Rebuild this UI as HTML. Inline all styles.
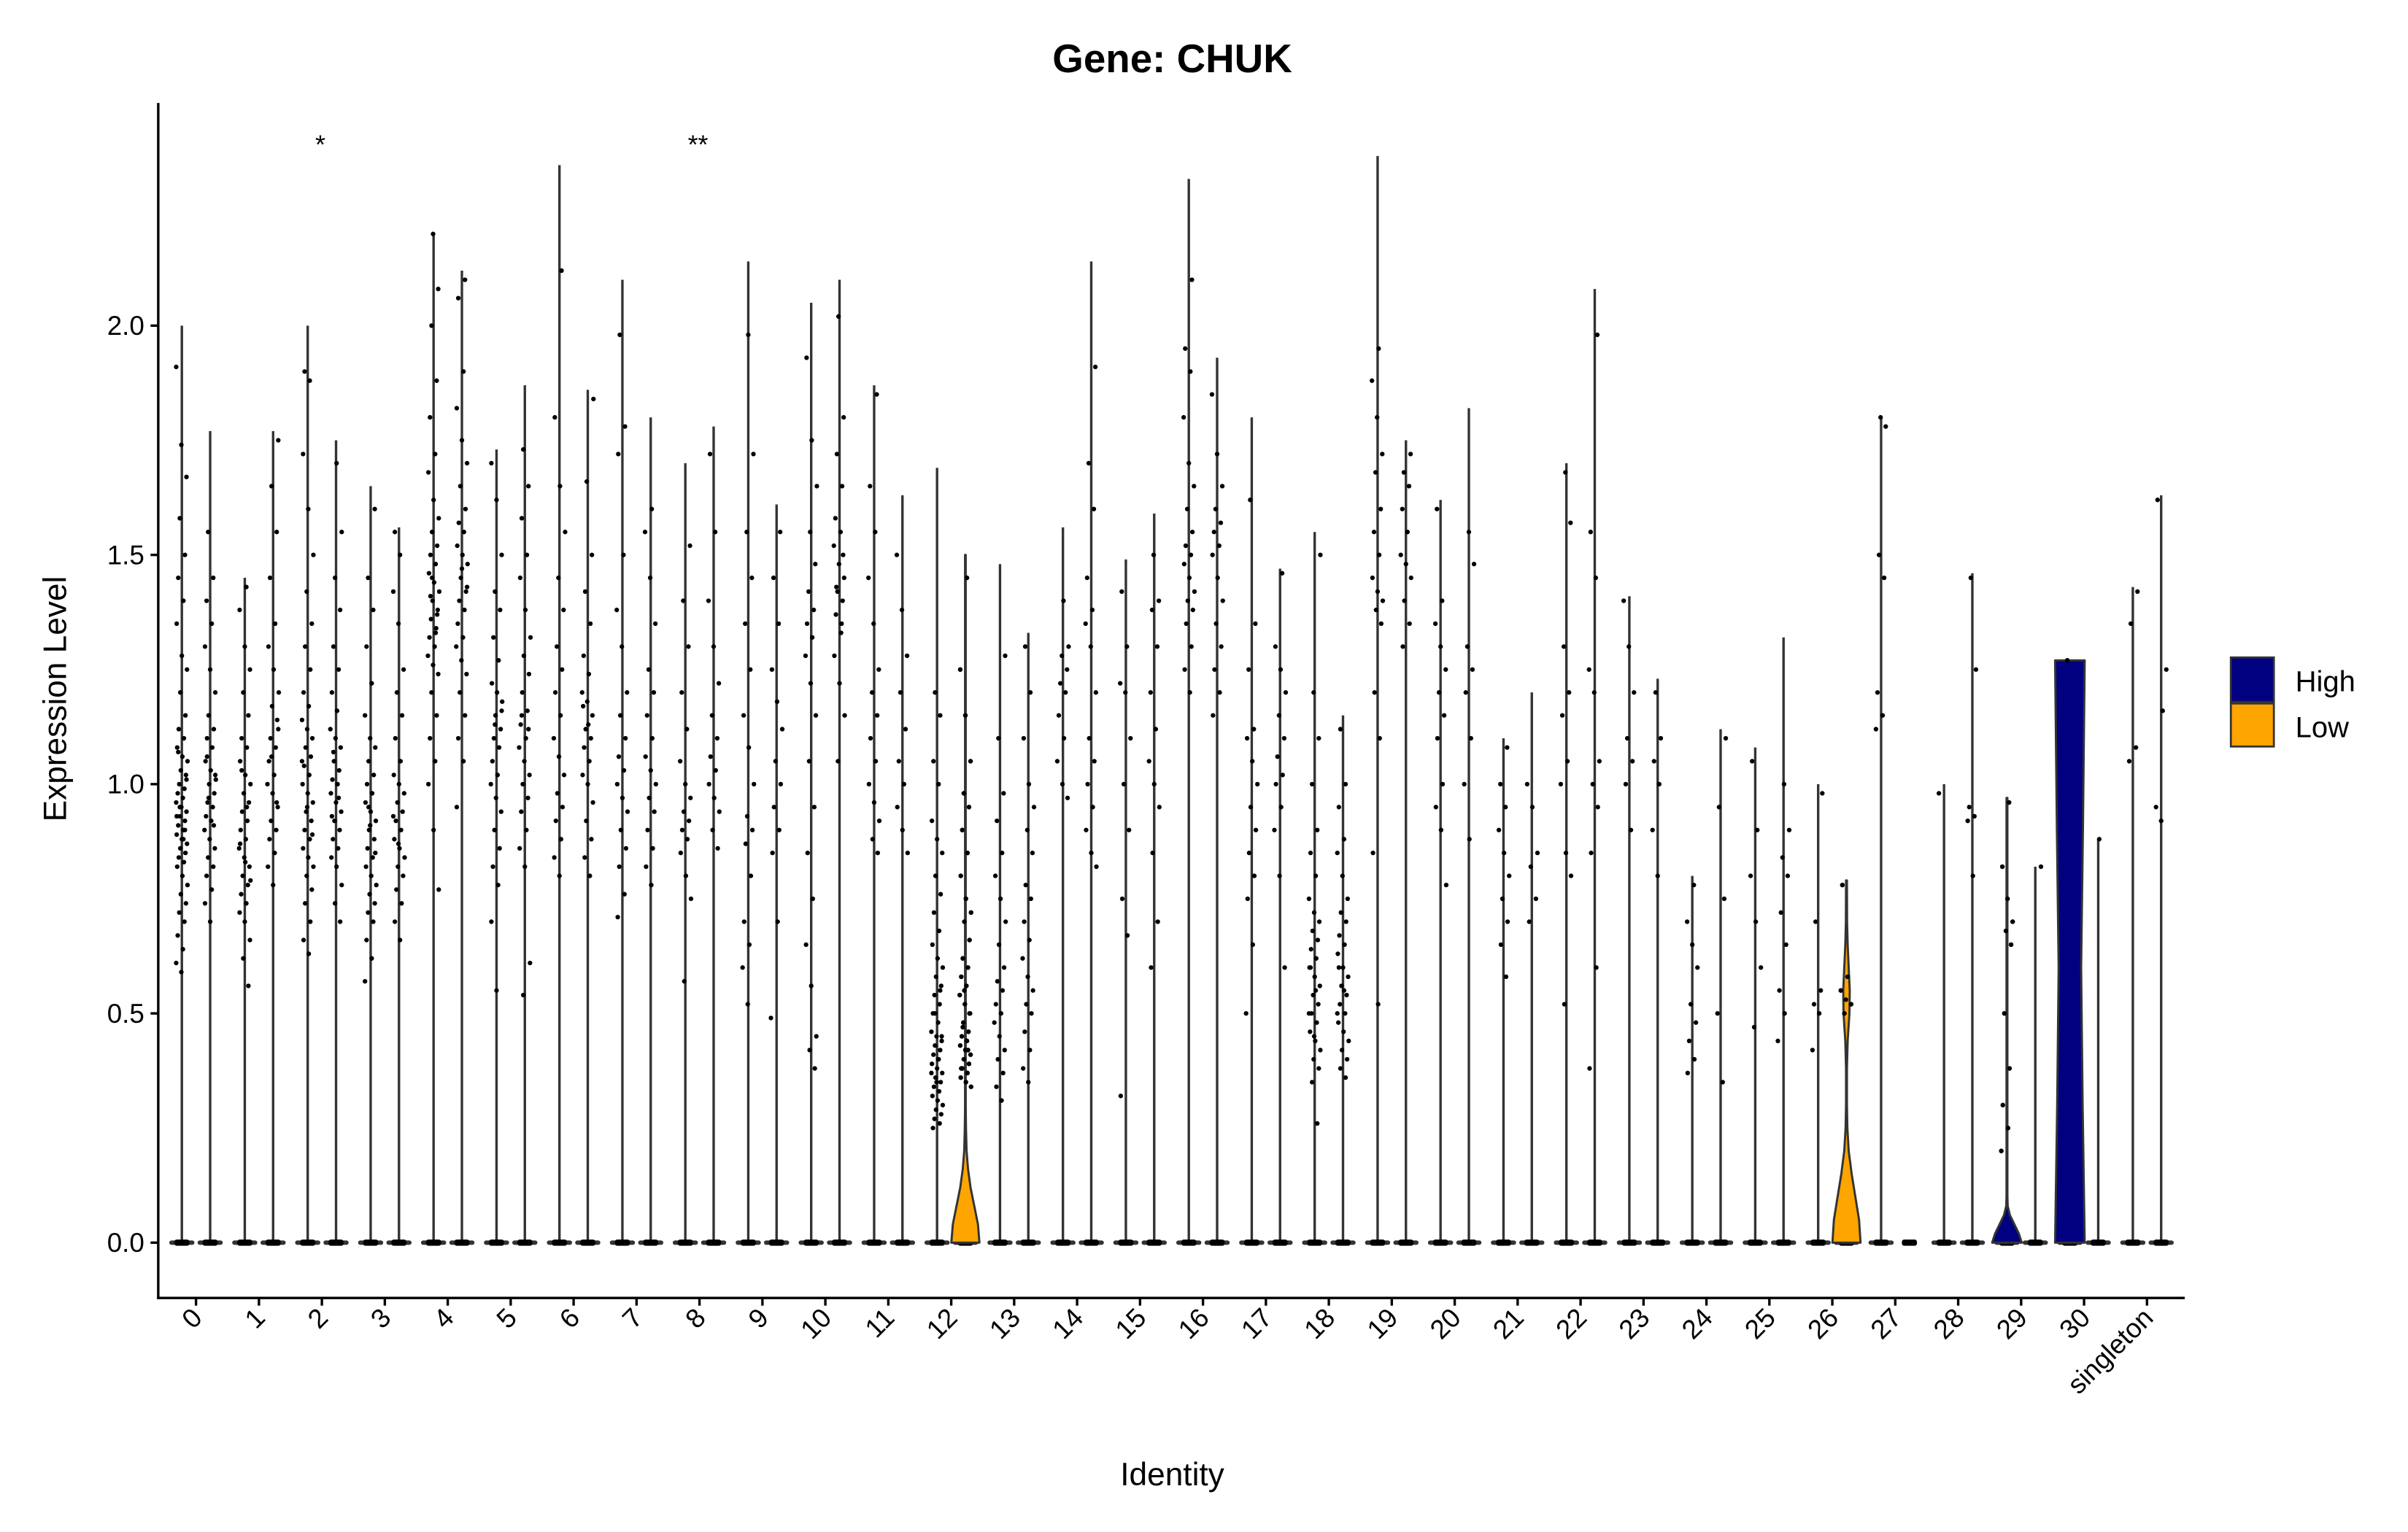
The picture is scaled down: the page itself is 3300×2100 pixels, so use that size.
<!DOCTYPE html>
<html><head><meta charset="utf-8"><style>
html,body{margin:0;padding:0;background:#fff;}
svg{display:block;font-family:"Liberation Sans",Arial,sans-serif;}
</style></head><body>
<svg id="chart" xmlns="http://www.w3.org/2000/svg" width="3300" height="2100" viewBox="0 0 1567.3 997.37">
<rect x="0" y="0" width="1600" height="1000" fill="#fff"/>
<text x="763" y="47" text-anchor="middle" font-size="26" font-weight="bold">Gene: CHUK</text>
<text transform="translate(43,455) rotate(-90)" text-anchor="middle" font-size="21">Expression Level</text>
<text x="763" y="967" text-anchor="middle" font-size="21">Identity</text>
<g id="plot"></g>
<g>
<rect x="1452" y="428" width="28" height="29" fill="#000080" stroke="#333" stroke-width="1.3"/>
<rect x="1452" y="458" width="28" height="28" fill="#FFA500" stroke="#333" stroke-width="1.3"/>
<text x="1494" y="450" font-size="19">High</text>
<text x="1494" y="480" font-size="19">Low</text>
</g>
</svg>
<script>
const categories = ["0","1","2","3","4","5","6","7","8","9","10","11","12","13","14","15","16","17","18","19","20","21","22","23","24","25","26","27","28","29","30","singleton"];
const yTicks = [0, 0.5, 1.0, 1.5, 2.0];
const yTickLabels = ["0.0","0.5","1.0","1.5","2.0"];
const maxLeft = [2.0,1.45,2.0,1.65,2.2,1.73,2.35,2.1,1.7,2.14,2.05,1.87,1.69,1.48,1.56,1.49,2.32,1.8,1.55,2.37,1.62,1.1,1.7,1.41,0.8,1.08,1.0,1.8,1.0,0.97,1.27,1.43];
const maxRight = [1.77,1.77,1.75,1.56,2.12,1.87,1.86,1.8,1.78,1.61,2.1,1.63,1.5,1.33,2.14,1.59,1.93,1.47,1.15,1.75,1.82,1.2,2.08,1.23,1.12,1.32,0.79,0,1.46,0.82,0.88,1.63];
const pointsLeft = [
[1.91,1.74,1.67,1.58,1.5,1.45,1.4,1.35,1.28,1.25,1.2,1.15,1.12,1.1,1.08,1.06,1.05,1.03,1.02,1.0,0.99,0.98,0.97,0.96,0.95,0.94,0.93,0.92,0.91,0.9,0.89,0.88,0.87,0.86,0.85,0.84,0.83,0.82,0.8,0.78,0.76,0.74,0.72,0.7,0.67,0.64,0.61,0.59,1.01,0.95,0.9,1.07,0.88,0.93],
[1.43,1.38,1.3,1.25,1.2,1.15,1.1,1.08,1.05,1.02,1.0,0.98,0.96,0.94,0.92,0.9,0.88,0.86,0.84,0.82,0.8,0.78,0.76,0.74,0.72,0.7,0.66,0.62,0.56,1.03,0.95,0.87,0.83,0.79],
[1.9,1.88,1.72,1.6,1.5,1.42,1.35,1.3,1.25,1.2,1.17,1.14,1.12,1.1,1.08,1.06,1.04,1.02,1.0,0.98,0.96,0.94,0.92,0.9,0.88,0.86,0.84,0.82,0.8,0.77,0.74,0.7,0.66,0.63,1.05,0.95,0.89],
[1.6,1.45,1.38,1.3,1.22,1.15,1.1,1.08,1.05,1.02,1.0,0.98,0.96,0.94,0.92,0.9,0.88,0.86,0.84,0.82,0.8,0.78,0.76,0.74,0.72,0.7,0.66,0.62,0.57,0.91,0.85,0.95],
[2.2,2.08,2.0,1.88,1.8,1.72,1.68,1.62,1.58,1.55,1.52,1.5,1.48,1.46,1.44,1.42,1.4,1.38,1.36,1.34,1.32,1.3,1.28,1.26,1.24,1.2,1.15,1.1,1.05,1.0,0.9,0.77,1.45,1.37,1.41,1.33],
[1.7,1.62,1.5,1.42,1.38,1.32,1.27,1.22,1.2,1.18,1.15,1.12,1.1,1.08,1.05,1.02,1.0,0.97,0.94,0.9,0.86,0.82,0.78,0.7,0.55,1.16,1.13],
[2.12,1.8,1.65,1.55,1.45,1.38,1.3,1.25,1.2,1.15,1.1,1.06,1.02,0.98,0.95,0.92,0.88,0.84,0.8],
[1.98,1.78,1.72,1.5,1.38,1.3,1.2,1.15,1.1,1.06,1.03,1.0,0.97,0.94,0.9,0.86,0.82,0.76,0.71],
[1.52,1.4,1.3,1.2,1.12,1.05,1.0,0.97,0.94,0.92,0.9,0.88,0.85,0.8,0.75,0.57],
[1.98,1.72,1.55,1.45,1.35,1.25,1.15,1.08,1.0,0.93,0.9,0.87,0.8,0.7,0.65,0.6,0.52],
[1.93,1.75,1.65,1.55,1.48,1.42,1.38,1.35,1.32,1.28,1.22,1.15,1.05,0.95,0.85,0.75,0.65,0.56,0.45,0.42,0.38],
[1.85,1.65,1.55,1.45,1.35,1.25,1.2,1.15,1.1,1.05,1.0,0.96,0.92,0.88,0.85],
[1.2,1.15,1.05,1.0,0.92,0.88,0.85,0.8,0.76,0.72,0.68,0.65,0.62,0.6,0.58,0.56,0.54,0.52,0.5,0.48,0.46,0.45,0.44,0.43,0.42,0.41,0.4,0.39,0.38,0.37,0.36,0.35,0.34,0.33,0.32,0.31,0.3,0.29,0.28,0.27,0.26,0.25,0.4,0.37,0.35,0.45,0.5,0.55],
[1.28,1.1,0.98,0.92,0.85,0.8,0.75,0.7,0.65,0.6,0.57,0.55,0.52,0.5,0.48,0.45,0.42,0.4,0.37,0.34,0.31],
[1.4,1.3,1.28,1.25,1.22,1.2,1.15,1.1,1.05,1.0,0.97],
[1.42,1.3,1.22,1.2,1.1,1.0,0.9,0.75,0.67,0.32],
[2.1,1.95,1.9,1.8,1.7,1.65,1.6,1.55,1.52,1.5,1.48,1.45,1.42,1.4,1.38,1.35,1.3,1.25,1.2],
[1.62,1.35,1.25,1.12,1.1,1.05,1.0,0.95,0.9,0.85,0.8,0.75,0.65,0.5],
[1.5,1.2,1.1,1.0,0.9,0.85,0.8,0.75,0.72,0.7,0.68,0.66,0.64,0.62,0.6,0.58,0.56,0.54,0.52,0.5,0.48,0.46,0.44,0.42,0.4,0.38,0.35,0.26,0.6,0.55,0.5,0.45],
[1.95,1.88,1.8,1.72,1.68,1.6,1.55,1.5,1.45,1.42,1.4,1.38,1.35,1.2,1.1,0.85,0.52],
[1.6,1.4,1.35,1.3,1.25,1.2,1.15,1.1,1.0,0.95,0.9,0.78],
[1.08,1.0,0.95,0.9,0.85,0.8,0.75,0.7,0.65,0.58],
[1.68,1.57,1.3,1.2,1.15,1.05,1.0,0.85,0.8,0.52],
[1.4,1.3,1.2,1.1,1.05,1.0,0.9],
[0.78,0.7,0.65,0.6,0.52,0.48,0.44,0.4,0.37],
[1.05,0.9,0.8,0.7,0.6,0.47],
[0.98,0.7,0.55,0.52,0.5,0.42],
[1.8,1.78,1.5,1.45,1.2,1.15,1.12],
[0.98],
[0.96,0.82,0.75,0.7,0.68,0.65,0.5,0.38,0.3,0.25,0.2],
[1.27],
[1.42,1.35,1.08,1.05]
];
const pointsRight = [
[1.55,1.45,1.4,1.35,1.3,1.25,1.2,1.15,1.12,1.1,1.08,1.05,1.03,1.01,1.0,0.98,0.96,0.95,0.93,0.92,0.9,0.88,0.86,0.84,0.82,0.8,0.77,0.74,0.7,1.02,0.97,0.91,1.06],
[1.75,1.65,1.55,1.45,1.35,1.3,1.25,1.2,1.17,1.14,1.1,1.08,1.05,1.02,1.0,0.98,0.95,0.92,0.9,0.88,0.85,0.82,0.78,1.12,1.06,0.96],
[1.7,1.55,1.45,1.38,1.3,1.25,1.2,1.16,1.12,1.1,1.08,1.05,1.03,1.01,1.0,0.98,0.96,0.94,0.92,0.9,0.88,0.86,0.84,0.82,0.78,0.74,0.7,1.07,0.97,0.93],
[1.55,1.5,1.42,1.35,1.25,1.2,1.15,1.1,1.05,1.02,1.0,0.98,0.96,0.94,0.92,0.9,0.88,0.86,0.84,0.82,0.8,0.77,0.74,0.7,0.66,0.93,0.87],
[2.1,2.06,1.9,1.82,1.75,1.7,1.65,1.6,1.57,1.55,1.52,1.5,1.48,1.45,1.42,1.4,1.38,1.35,1.32,1.3,1.27,1.24,1.2,1.15,1.1,1.05,0.95,1.47,1.43],
[1.73,1.65,1.58,1.5,1.45,1.38,1.32,1.28,1.24,1.2,1.16,1.13,1.1,1.08,1.05,1.02,1.0,0.97,0.94,0.9,0.86,0.82,0.61,0.54,1.12,1.15],
[1.84,1.66,1.5,1.42,1.35,1.28,1.24,1.2,1.18,1.15,1.12,1.1,1.08,1.05,1.02,1.0,0.96,0.92,0.88,0.84,0.8,1.17,1.13],
[1.6,1.55,1.45,1.35,1.25,1.2,1.15,1.1,1.06,1.03,1.0,0.97,0.94,0.9,0.86,0.82,0.78],
[1.72,1.55,1.4,1.3,1.22,1.15,1.1,1.06,1.03,1.0,0.97,0.94,0.9,0.86],
[1.55,1.45,1.35,1.25,1.18,1.12,1.05,1.0,0.95,0.9,0.85,0.7,0.49],
[2.02,1.8,1.72,1.65,1.58,1.55,1.52,1.48,1.45,1.42,1.4,1.37,1.33,1.28,1.22,1.15,1.05,1.5,1.43,1.35],
[1.5,1.38,1.28,1.2,1.12,1.05,1.0,0.95,0.9,0.85],
[1.45,1.25,1.15,1.05,0.98,0.95,0.9,0.85,0.8,0.75,0.72,0.7,0.66,0.62,0.6,0.58,0.56,0.54,0.52,0.5,0.48,0.46,0.45,0.44,0.43,0.42,0.41,0.4,0.39,0.38,0.37,0.36,0.35,0.34,0.55,0.5,0.47,0.42,0.38],
[1.3,1.2,1.1,1.0,0.95,0.9,0.85,0.78,0.75,0.7,0.66,0.62,0.58,0.55,0.52,0.5,0.46,0.42,0.38,0.35],
[1.91,1.7,1.6,1.45,1.38,1.35,1.3,1.2,1.1,1.05,1.0,0.95,0.9,0.85,0.82],
[1.5,1.4,1.38,1.3,1.2,1.12,1.05,1.0,0.95,0.85,0.7,0.6],
[1.85,1.72,1.65,1.6,1.57,1.55,1.52,1.5,1.45,1.4,1.35,1.3,1.25,1.2,1.15],
[1.46,1.3,1.25,1.2,1.15,1.1,1.06,1.02,1.0,0.95,0.9,0.8,0.6],
[1.12,1.0,0.95,0.88,0.85,0.8,0.75,0.72,0.7,0.67,0.65,0.63,0.6,0.58,0.56,0.54,0.52,0.5,0.48,0.46,0.44,0.42,0.4,0.38,0.36,0.6,0.55,0.5],
[1.72,1.68,1.65,1.6,1.55,1.5,1.48,1.45,1.4,1.35,1.3],
[1.55,1.48,1.3,1.25,1.2,1.1,1.0,0.88],
[1.0,0.95,0.85,0.82,0.75,0.7],
[1.98,1.55,1.45,1.25,1.2,1.05,1.0,0.95,0.85,0.6,0.38],
[1.2,1.1,1.05,1.0,0.9,0.8],
[1.1,0.95,0.75,0.5,0.35],
[1.0,0.9,0.84,0.8,0.72,0.65,0.55,0.5,0.44],
[0.78,0.58,0.55,0.53,0.52,0.5],
[],
[1.45,1.25,0.95,0.93,0.92,0.8],
[0.82],
[0.88],
[1.62,1.16,0.95,0.92,1.25]
];
const profile12Low = [[0,0.95],[0.04,0.85],[0.08,0.6],[0.12,0.35],[0.16,0.18],[0.2,0.08],[0.25,0.04],[0.3,0.02],[1.5,0.02]];
const profile26Low = [[0,0.95],[0.05,0.85],[0.1,0.6],[0.15,0.35],[0.2,0.15],[0.25,0.06],[0.3,0.03],[0.38,0.03],[0.44,0.08],[0.5,0.2],[0.55,0.22],[0.6,0.15],[0.65,0.08],[0.7,0.04],[0.79,0.03]];
const profile29High = [[0,1.0],[0.02,0.8],[0.04,0.5],[0.06,0.2],[0.08,0.05],[0.1,0.03],[0.97,0.03]];
const profile30High = [[0,1.0],[0.3,0.86],[0.6,0.76],[0.9,0.88],[1.27,1.0]];
const filledViolins = [
  {cat:12, side:1, color:"#FFA500", prof:profile12Low},
  {cat:26, side:1, color:"#FFA500", prof:profile26Low},
  {cat:29, side:-1, color:"#000080", prof:profile29High},
  {cat:30, side:-1, color:"#000080", prof:profile30High}
];

const NS = "http://www.w3.org/2000/svg";
const plot = document.getElementById('plot');
const X0 = 103, X1 = 1422, YB = 845, YT = 67;
const S = (X1 - X0) / 32.2;
function xCat(i){ return X0 + (0.6 + i) * S; }
function yVal(v){ return 809 - v * 298.5; }
const OFF = 0.225 * S, HW = 0.235 * S;

function mk(tag, attrs, parent){
  const e = document.createElementNS(NS, tag);
  for (const k in attrs) e.setAttribute(k, attrs[k]);
  (parent || plot).appendChild(e);
  return e;
}

let ax = mk('line', {x1:X0, y1:YT, x2:X0, y2:YB+0.8, stroke:'#000', 'stroke-width':1.6});


ax = mk('line', {x1:X0-0.8, y1:YB, x2:X1, y2:YB, stroke:'#000', 'stroke-width':1.6});



yTicks.forEach((v, i) => {
  const t = mk('line', {x1:X0-5, y1:yVal(v), x2:X0, y2:yVal(v), stroke:'#000', 'stroke-width':1.6});
  
  
  const l = mk('text', {x:X0-9, y:yVal(v)+6, 'text-anchor':'end', 'font-size':17.5});
  
  
  l.textContent = yTickLabels[i];
});

categories.forEach((c, i) => {
  const x = xCat(i);
  const t = mk('line', {x1:x, y1:YB, x2:x, y2:YB+5, stroke:'#000', 'stroke-width':1.6});
  
  
  const l = mk('text', {x:0, y:0, 'text-anchor':'end', 'font-size':17.5, transform:'translate(' + (x+5) + ',' + (YB+14) + ') rotate(-45)'});
  
  
  l.textContent = c;
});

function hash(i, k){ return (((i * 7919 + k * 104729) % 23) + 23) % 23; }

function drawViolin(i, side, maxV, pts){
  const cx = xCat(i) + side * OFF;
  const g = mk('g', {});
  
  
  if (maxV > 0) {
    const ln = mk('line', {x1:cx, y1:yVal(0), x2:cx, y2:yVal(maxV), stroke:'#333', 'stroke-width':1.6}, g);
    
    
  }
  const bw = maxV > 0 ? 0.2 * S : 0.12 * S;
  const base = mk('rect', {x:cx-bw, y:yVal(0)-1.4, width:2*bw, height:2.8, rx:1.4, fill:'#333'}, g);
  
  
  const dens = mk('rect', {x:cx-0.12*S, y:yVal(0)-2, width:0.24*S, height:4, rx:1.5, fill:'#000'}, g);
  
  
  pts.forEach((v, k) => {
    const jx = (hash(i*2 + (side > 0 ? 1 : 0), k) - 11) / 11 * 0.09 * S;
    const p = mk('circle', {cx:cx + jx, cy:yVal(v), r:1.5, fill:'#000'}, g);
    
    
  });
}

categories.forEach((c, i) => {
  drawViolin(i, -1, maxLeft[i], pointsLeft[i]);
  drawViolin(i, 1, maxRight[i], pointsRight[i]);
});

filledViolins.forEach(fv => {
  const cx = xCat(fv.cat) + fv.side * OFF;
  const right = fv.prof.map(p => (cx + p[1]*HW) + ',' + yVal(p[0]));
  const left = fv.prof.slice().reverse().map(p => (cx - p[1]*HW) + ',' + yVal(p[0]));
  const poly = mk('polygon', {points: right.concat(left).join(' '), fill:fv.color, stroke:'#333', 'stroke-width':1.4, 'stroke-linejoin':'round'});
  
  
});
[[26,1],[29,-1],[30,-1],[12,1]].forEach(([ci, side]) => {
  const cx = xCat(ci) + side * OFF;
  const arr = side < 0 ? pointsLeft[ci] : pointsRight[ci];
  arr.forEach((v, k) => {
    const jx = (hash(ci*2 + (side > 0 ? 1 : 0), k) - 11) / 11 * 0.09 * S;
    const p = mk('circle', {cx:cx + jx, cy:yVal(v), r:1.5, fill:'#000'});
    
    
  });
});

[[2,"*"],[8,"**"]].forEach(([ci, s]) => {
  const t = mk('text', {x:xCat(ci)-1, y:100, 'text-anchor':'middle', 'font-size':17});
  
  
  t.textContent = s;
});
</script>
</body></html>
